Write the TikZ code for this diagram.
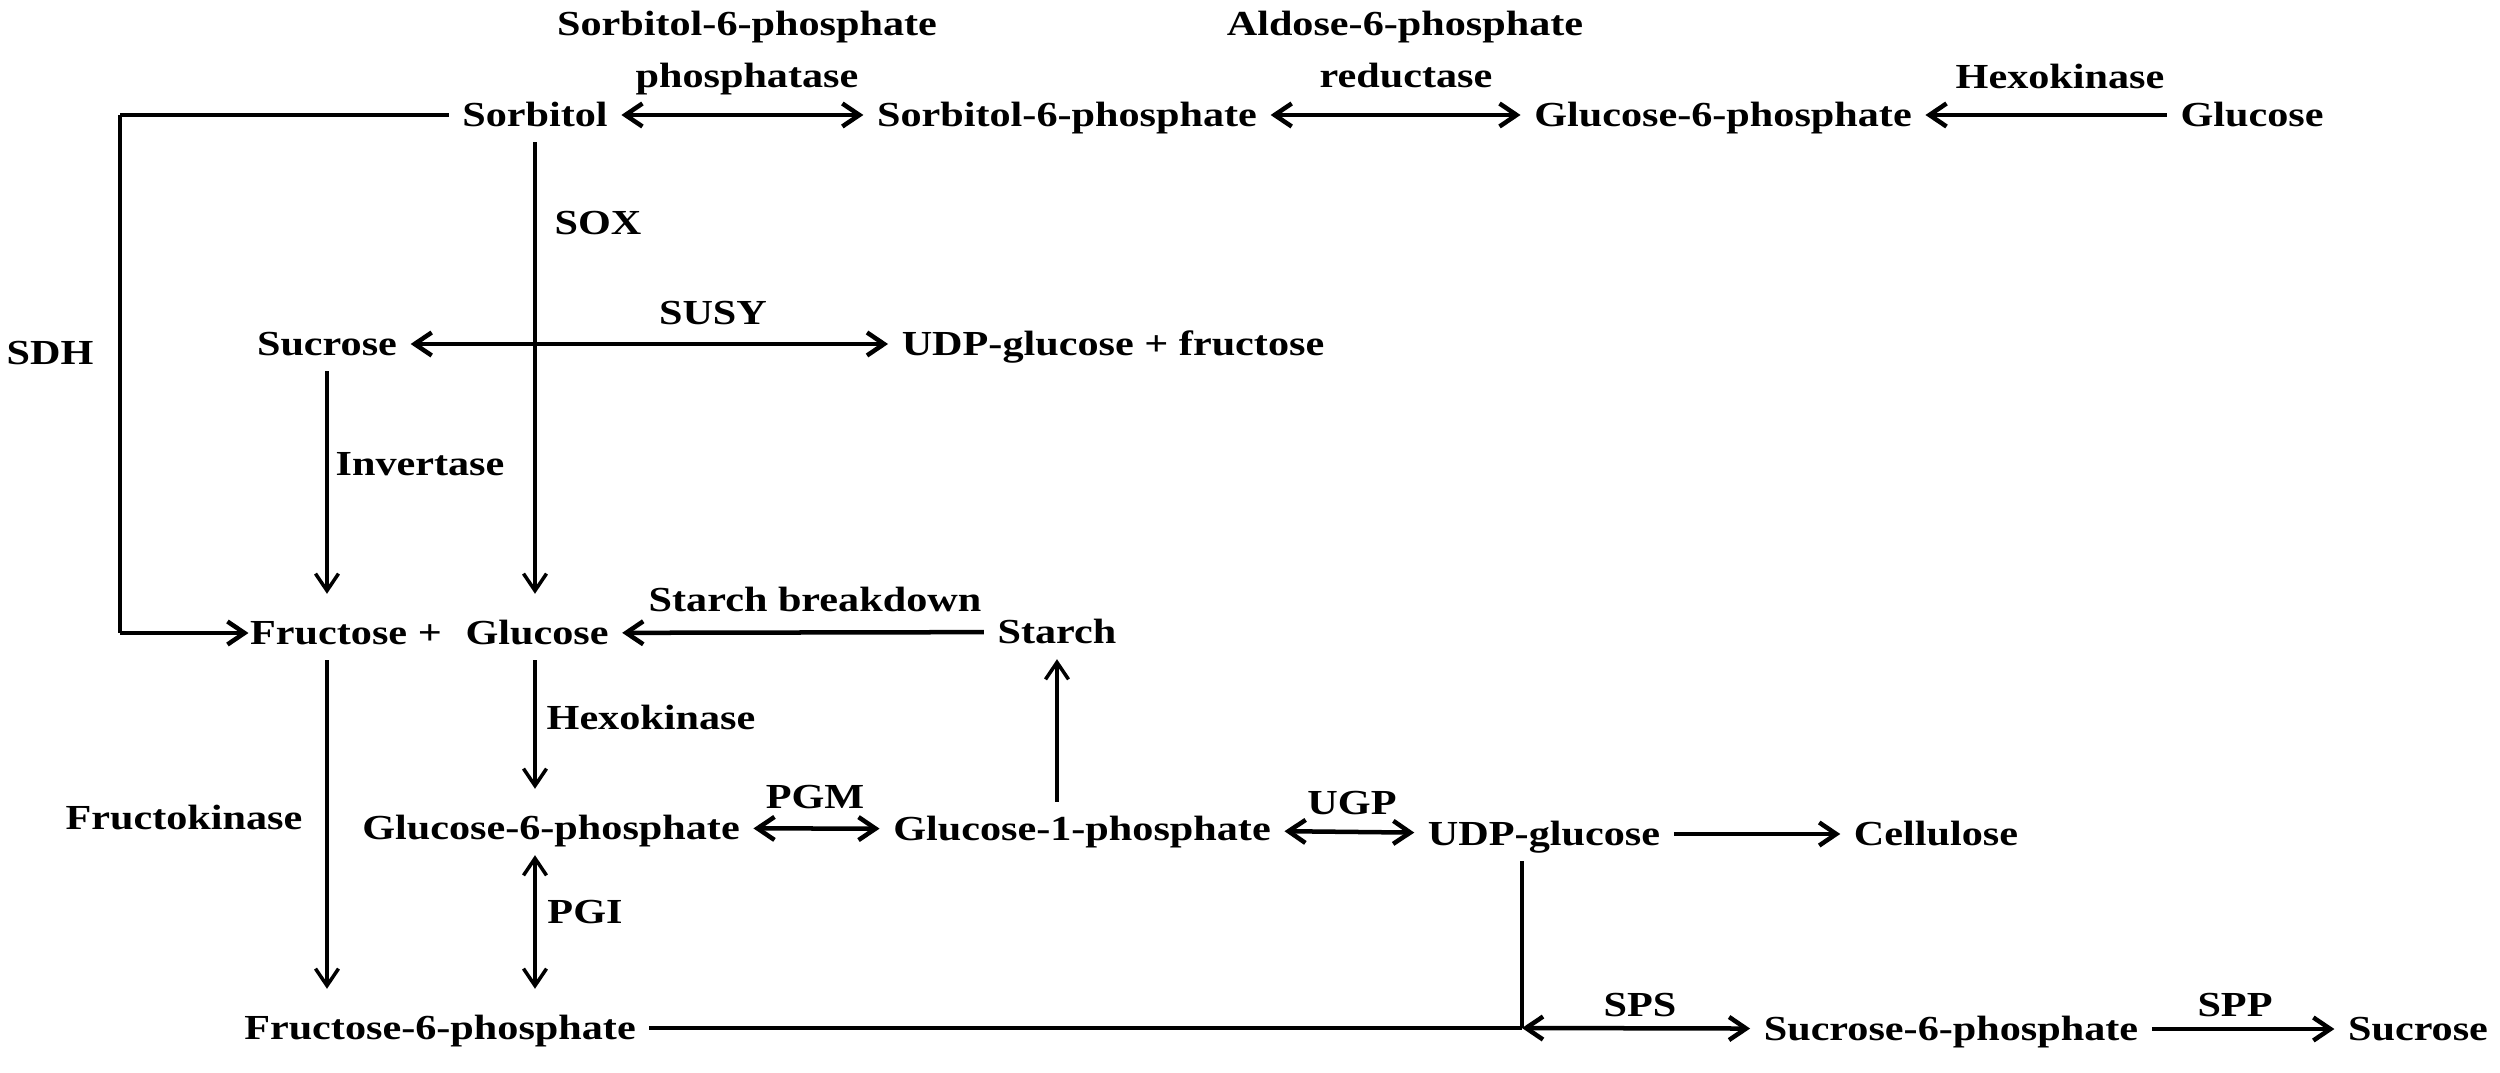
\documentclass[tikz,border=0pt]{standalone}
\usepackage{fontspec}
\setmainfont{Liberation Serif}[FakeStretch=1.2]
\usetikzlibrary{arrows.meta}

\tikzset{
  every node/.style={font=\fontsize{10}{12}\selectfont\bfseries, text height=0.23cm, text depth=0cm, inner xsep=0.13cm, inner ysep=0.15cm},
  hline/.style={line width=0.045cm},
  vline/.style={line width=0.035cm},
  down/.style={shorten >=0.12cm},
  >={Straight Barb[length=0.17cm,width=0.23cm]}
}

\begin{document}
\begin{tikzpicture}[x=0.01cm,y=-0.01cm]
  \useasboundingbox (0,0) rectangle (2500,1073);
  % metabolites
  \node (sorb) at (535,115) {Sorbitol};
  \node (s6p) at (1067,115) {Sorbitol-6-phosphate};
  \node (g6pa) at (1723,115) {Glucose-6-phosphate};
  \node (glu) at (2252,115) {Glucose};
  \node (sucr) at (327,344) {Sucrose};
  \node (udpf) at (1113,344) {UDP-glucose + fructose};
  \node (fru) at (346,633) {Fructose +};
  \node (glc) at (537,633) {Glucose};
  \node (starch) at (1057,632) {Starch};
  \node (g6pb) at (551,828) {Glucose-6-phosphate};
  \node (g1p) at (1082,829) {Glucose-1-phosphate};
  \node (udp) at (1544,834) {UDP-glucose};
  \node (cell) at (1936,834) {Cellulose};
  \node (f6p) at (440,1028) {Fructose-6-phosphate};
  \node (s6pb) at (1951,1029) {Sucrose-6-phosphate};
  \node (sucb) at (2418,1029) {Sucrose};
  \coordinate (sdht) at (120,115);
  \coordinate (sdhb) at (120,633);
  \coordinate (jn) at (1522,1028);
  % enzymes
  \node (s6ppa) at (747,24) {Sorbitol-6-phosphate};
  \node (s6ppb) at (747,76) {phosphatase};
  \node (a6pra) at (1405,24) {Aldose-6-phosphate};
  \node (a6prb) at (1406,76) {reductase};
  \node (hxka) at (2060,77) {Hexokinase};
  \node (sox) at (598,223) {SOX};
  \node (susy) at (713,313) {SUSY};
  \node (sdh) at (50,353) {SDH};
  \node (inv) at (420,464) {Invertase};
  \node (stbd) at (815,600) {Starch breakdown};
  \node (hxkb) at (651,718) {Hexokinase};
  \node (fruk) at (184,818) {Fructokinase};
  \node (pgm) at (815,797) {PGM};
  \node (ugp) at (1352,803) {UGP};
  \node (pgi) at (585,912) {PGI};
  \node (sps) at (1640,1005) {SPS};
  \node (spp) at (2235,1005) {SPP};
  % horizontal steps
  \draw[hline,<->] (sorb) -- (s6p);
  \draw[hline,<->] (s6p) -- (g6pa);
  \draw[hline,->] (glu) -- (g6pa);
  \draw[hline,<->] (sucr) -- (udpf);
  \draw[hline,->] (starch) -- (glc);
  \draw[hline,<->] (g6pb) -- (g1p);
  \draw[hline,<->] (g1p) -- (udp);
  \draw[hline,->] (udp) -- (cell);
  \draw[hline] (f6p) -- (jn);
  \draw[hline,<->] (jn) -- (s6pb);
  \draw[hline,->] (s6pb) -- (sucb);
  \draw[hline] (sorb.west) -- (sdht);
  \draw[vline] (sdht) -- (sdhb);
  \draw[hline,->,shorten >=-0.12cm] (sdhb) -- (fru.west);
  % vertical steps
  \draw[vline,->,down] (sorb.south) -- (sorb.south |- glc.north);
  \draw[vline,->,down] (sucr.south) -- (sucr.south |- fru.north);
  \draw[vline,->,down] (fru.south -| sucr) -- (f6p.north -| sucr);
  \draw[vline,->,down] (glc.south -| sorb) -- (g6pb.north -| sorb);
  \draw[vline,<->,down] (g6pb.south -| sorb) -- (f6p.north -| sorb);
  \draw[vline,->] (g1p.north -| starch) -- (starch.south);
  \draw[vline] (udp.south -| jn) -- (jn);
\end{tikzpicture}
\end{document}
